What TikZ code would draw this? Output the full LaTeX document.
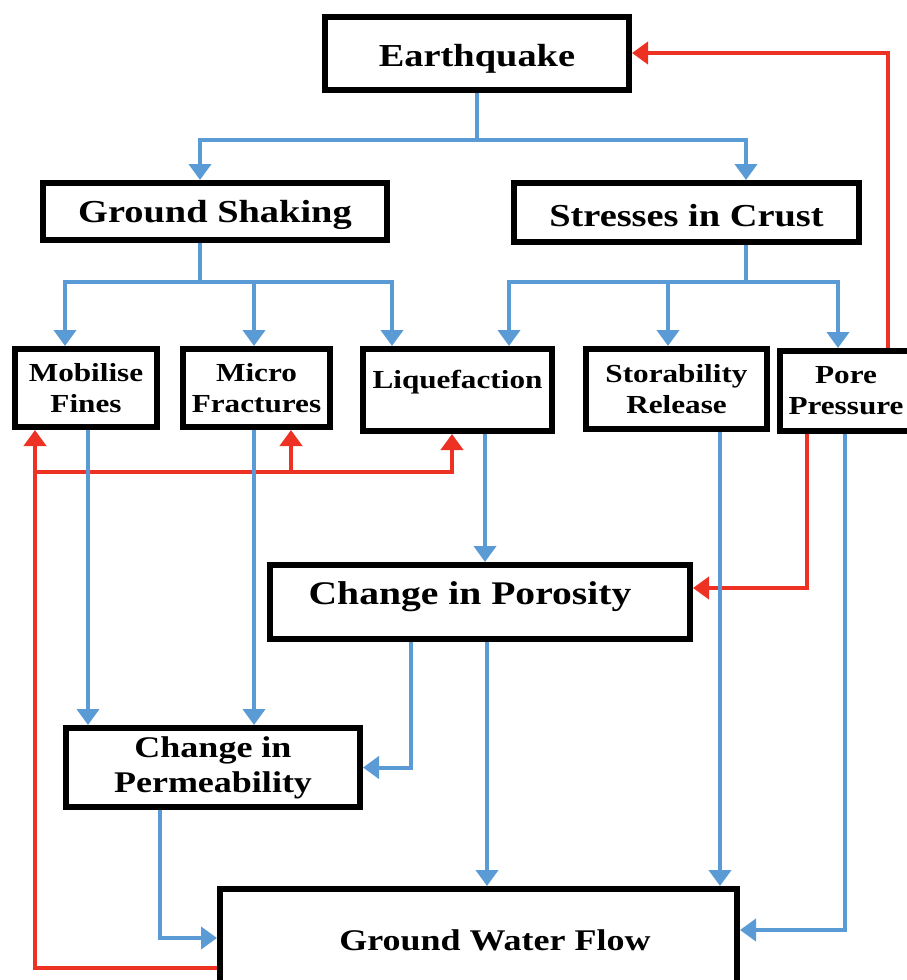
\documentclass[tikz,border=0pt]{standalone}
\usepackage{fontspec}
\setmainfont{Liberation Serif}[FakeStretch=1.2]
\usetikzlibrary{arrows.meta}

\definecolor{flowblue}{RGB}{91,155,213}
\definecolor{flowred}{RGB}{237,50,36}

\tikzset{
  box/.style={draw=black, line width=6pt, fill=white, inner sep=0pt, align=center},
  bigtext/.style={font=\fontsize{32}{38}\selectfont\bfseries, text height=29pt},
  midtext/.style={font=\fontsize{30}{35}\selectfont\bfseries},
  smalltext/.style={font=\fontsize{26}{31}\selectfont\bfseries},
  flow/.style={flowblue, line width=4pt, -{Triangle[length=16pt,width=22pt]}},
  back/.style={flowred, line width=4pt, -{Triangle[length=16pt,width=22pt]}},
}

\begin{document}
\begin{tikzpicture}[x=1pt, y=-1pt]
  \useasboundingbox (0,0) rectangle (906,980);

  % Upper boxes
  \node[box, bigtext, minimum width=304pt, minimum height=73pt, text height=33pt] (quake) at (477,53) {Earthquake};
  \node[box, bigtext, minimum width=344pt, minimum height=57pt] (shaking) at (215,211.5) {Ground Shaking};
  \node[box, bigtext, minimum width=345pt, minimum height=59pt] (stress) at (686.5,212.5) {Stresses in Crust};

  % Middle row
  \node[box, smalltext, minimum width=142pt, minimum height=78pt] (fines) at (86,388) {Mobilise\\Fines};
  \node[box, smalltext, minimum width=147pt, minimum height=78pt] (fract) at (256.5,388) {Micro\\Fractures};
  \node[box, smalltext, minimum width=189pt, minimum height=82pt, text depth=22pt] (liq) at (457.5,390) {Liquefaction};
  \node[box, smalltext, minimum width=181pt, minimum height=80pt] (stor) at (676.5,389) {Storability\\Release};
  \node[box, smalltext, minimum width=150pt, minimum height=80pt] (pore) at (855,391) {Pore\hspace*{18pt}\\Pressure\hspace*{18pt}};

  % Lower boxes
  \node[box, font=\fontsize{33}{38}\selectfont\bfseries, minimum width=420pt, minimum height=74pt, text depth=17pt] (poros) at (480,602) {Change in Porosity\hspace*{20pt}};
  \node[box, midtext, minimum width=294pt, minimum height=79pt] (perm) at (213,767.5) {Change in\\Permeability};
  \node[box, midtext, minimum width=517pt, minimum height=102pt] (gwf) at (478.5,940) {\hspace*{33pt}Ground Water Flow};

  % Branch points
  \coordinate (qfork) at (477,140);
  \coordinate (sfork) at (200,282);
  \coordinate (cfork) at (746,282);
  \coordinate (rfork) at (35,472);

  % Earthquake
  \draw[flow] (quake.south) -- (qfork) -| ([xshift=-15pt]shaking.north);
  \draw[flow] (qfork) -| ([xshift=59.5pt]stress.north);

  % Ground shaking
  \draw[flowblue, line width=4pt] ([xshift=-15pt]shaking.south) -- (sfork);
  \draw[flow] (sfork) -| ([xshift=-21pt]fines.north);
  \draw[flow] (sfork) -| ([xshift=-2.5pt]fract.north);
  \draw[flow] (sfork) -| ([xshift=-65.5pt]liq.north);

  % Stresses in crust
  \draw[flowblue, line width=4pt] ([xshift=59.5pt]stress.south) -- (cfork);
  \draw[flow] (cfork) -| ([xshift=51.5pt]liq.north);
  \draw[flow] (cfork) -| ([xshift=-8.5pt]stor.north);
  \draw[flow] (cfork) -| ([xshift=-17pt]pore.north);

  % Feedback
  \draw[back] ([xshift=33pt]pore.north) |- (quake.east);
  \draw[back] ([yshift=-28pt]gwf.west) -| ([xshift=-51pt]fines.south);
  \draw[back] (rfork) -| ([xshift=34.5pt]fract.south);
  \draw[back] (rfork) -| ([xshift=-5.5pt]liq.south);
  \draw[back] ([xshift=-48pt]pore.south) |- ([yshift=14pt]poros.east);

  % Downward flows
  \draw[flow] ([xshift=2pt]fines.south) -- ([xshift=2pt]fines.south |- perm.north);
  \draw[flow] ([xshift=-2.5pt]fract.south) -- ([xshift=-2.5pt]fract.south |- perm.north);
  \draw[flow] ([xshift=27.5pt]liq.south) -- ([xshift=27.5pt]liq.south |- poros.north);
  \draw[flow] ([xshift=-69pt]poros.south) |- (perm.east);
  \draw[flow] ([xshift=7pt]poros.south) -- ([xshift=7pt]poros.south |- gwf.north);
  \draw[flow] ([xshift=43.5pt]stor.south) -- ([xshift=43.5pt]stor.south |- gwf.north);
  \draw[flow] ([xshift=-10pt]pore.south) |- ([yshift=10pt]gwf.east);
  \draw[flow] ([xshift=-53pt]perm.south) |- ([yshift=2pt]gwf.west);
\end{tikzpicture}
\end{document}
